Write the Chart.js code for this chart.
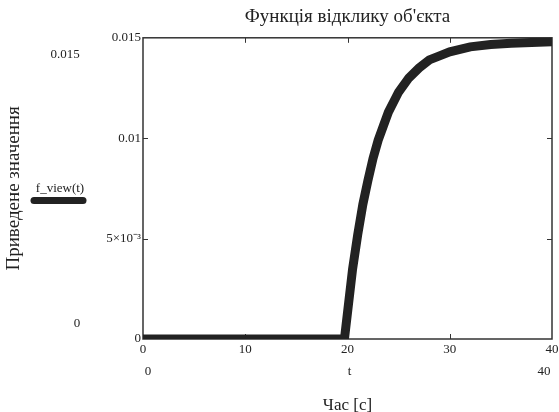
<!DOCTYPE html>
<html><head><meta charset="utf-8">
<script src="https://cdn.jsdelivr.net/npm/chart.js@4"></script>
<style>html,body{margin:0;padding:0;background:#fff}</style>
</head><body>
<canvas id="c" width="559" height="412" style="width:559px;height:412px;display:block"></canvas>
<script>
// ---- data ----
const times  = [0, 19.7, 20.5, 21, 21.5, 22, 22.5, 23, 23.5, 24, 25, 26, 27, 28, 29, 30, 32, 34, 36, 38, 40];
const values = [0, 0, 0.0035, 0.0052, 0.0067, 0.0079, 0.0090, 0.0099, 0.0106, 0.0113, 0.0123, 0.0130, 0.0135, 0.0139, 0.0141, 0.0143, 0.01455, 0.01467, 0.01473, 0.01477, 0.0148];
const xTickValues = [0, 10, 20, 30, 40];
const yTickValues = [0, 0.005, 0.01, 0.015];
const yTickLabels = ['0', '5×10⁻³', '0.01', '0.015'];
const titleText = "Функція відклику об'єкта";
const xTitle = 'Час [с]';
const yTitle = 'Приведене значення';
const seriesName = 'f_view(t)';
const xExtraLabels = ['0', 't', '40'];
const yExtraLabels = ['0.015', '0'];

const SERIF = "'Liberation Serif', 'Times New Roman', serif";
const INK = '#222';

const framePlugin = {
  id: 'frame',
  beforeDatasetsDraw(chart) {
    const {ctx, chartArea: a, scales} = chart;
    ctx.save();
    ctx.strokeStyle = '#333';
    ctx.lineWidth = 1.5;
    ctx.strokeRect(a.left, a.top, a.right - a.left, a.bottom - a.top);
    ctx.lineWidth = 1;
    ctx.beginPath();
    xTickValues.slice(1, -1).forEach(v => {
      const x = Math.round(scales.x.getPixelForValue(v)) + 0.5;
      ctx.moveTo(x, a.top); ctx.lineTo(x, a.top + 5);
      ctx.moveTo(x, a.bottom); ctx.lineTo(x, a.bottom - 5);
    });
    yTickValues.slice(1, -1).forEach(v => {
      const y = Math.round(scales.y.getPixelForValue(v)) + 0.5;
      ctx.moveTo(a.left, y); ctx.lineTo(a.left + 5, y);
      ctx.moveTo(a.right, y); ctx.lineTo(a.right - 5, y);
    });
    ctx.stroke();
    ctx.restore();
  },
  afterDraw(chart) {
    const {ctx, scales} = chart;
    ctx.save();
    ctx.fillStyle = INK;
    ctx.textAlign = 'center';
    ctx.textBaseline = 'middle';
    ctx.font = '13px ' + SERIF;
    // extra labels (Mathcad-style range markers)
    ctx.fillText(yExtraLabels[0], 65, 55);
    ctx.fillText(yExtraLabels[1], 77, 324);
    ctx.fillText(xExtraLabels[0], scales.x.getPixelForValue(0) + 5, 372);
    ctx.fillText(xExtraLabels[1], scales.x.getPixelForValue(20) + 2, 372);
    ctx.fillText(xExtraLabels[2], scales.x.getPixelForValue(40) - 8, 372);
    // legend
    ctx.font = '13px ' + SERIF;
    ctx.fillText(seriesName, 60, 189);
    ctx.strokeStyle = INK;
    ctx.lineWidth = 7;
    ctx.lineCap = 'round';
    ctx.beginPath();
    ctx.moveTo(34, 200.5); ctx.lineTo(83, 200.5);
    ctx.stroke();
    ctx.restore();
  }
};

new Chart(document.getElementById('c'), {
  type: 'line',
  data: {
    datasets: [{
      label: seriesName,
      data: times.map((t, i) => ({x: t, y: values[i]})),
      borderColor: INK,
      borderWidth: 9,
      pointRadius: 0,
      tension: 0,
      fill: false,
      clip: 0,
      borderJoinStyle: 'miter'
    }]
  },
  options: {
    responsive: false,
    animation: false,
    devicePixelRatio: 1,
    layout: {padding: {top: 0, right: 0, left: 0, bottom: 0}},
    plugins: {
      legend: {display: false},
      tooltip: {enabled: false},
      title: {
        display: true,
        text: titleText,
        fullSize: false,
        color: INK,
        font: {family: SERIF, size: 19, weight: 'normal', lineHeight: 1.2},
        padding: {top: 6, bottom: 9}
      }
    },
    scales: {
      x: {
        type: 'linear',
        min: 0, max: 40,
        afterFit(s) { s.height = 73; s.paddingRight = 7; s.paddingLeft = 0; },
        afterBuildTicks(s) { s.ticks = xTickValues.map(v => ({value: v})); },
        ticks: {color: INK, font: {family: SERIF, size: 13}, padding: 3, maxRotation: 0, autoSkip: false},
        grid: {display: false, drawTicks: false},
        border: {display: false},
        title: {display: true, text: xTitle, color: INK, font: {family: SERIF, size: 17, lineHeight: 0.8}, padding: {top: 0, bottom: 0}}
      },
      y: {
        type: 'linear',
        min: 0, max: 0.015,
        afterFit(s) { s.width = 143; },
        afterBuildTicks(s) { s.ticks = yTickValues.map(v => ({value: v})); },
        ticks: {
          color: INK, font: {family: SERIF, size: 13}, padding: 2, autoSkip: false,
          callback: (v) => { const i = yTickValues.findIndex(t => Math.abs(t - v) < 1e-9); return i >= 0 ? yTickLabels[i] : ''; }
        },
        grid: {display: false, drawTicks: false},
        border: {display: false},
        title: {display: true, text: yTitle, color: INK, font: {family: SERIF, size: 19, lineHeight: 1.2}, padding: {top: 3, bottom: 0}}
      }
    }
  },
  plugins: [framePlugin]
});
</script>
</body></html>
